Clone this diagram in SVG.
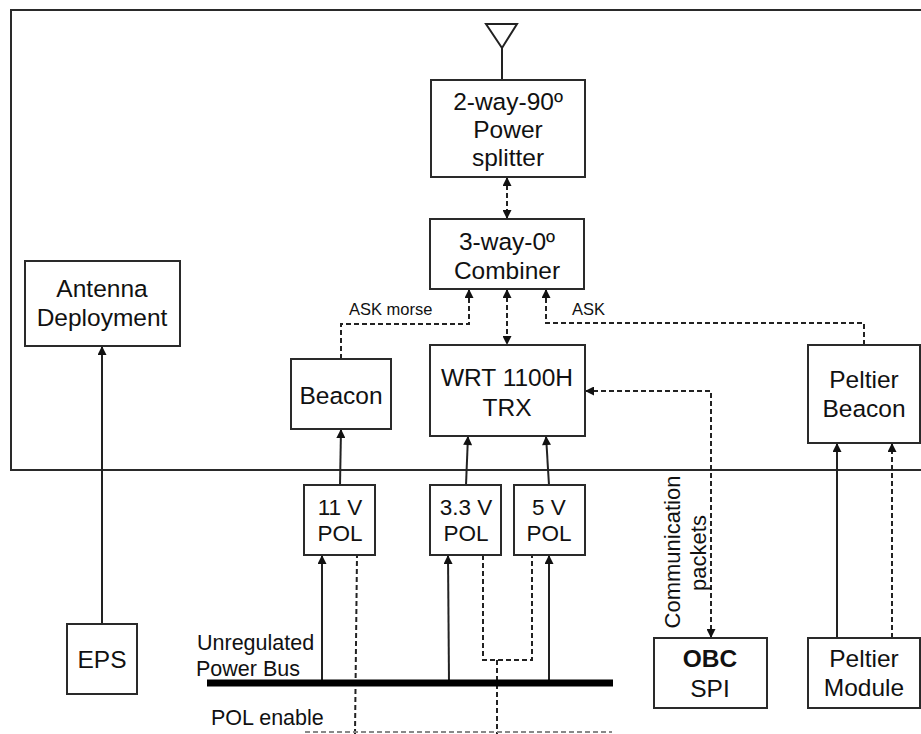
<svg xmlns="http://www.w3.org/2000/svg" width="921" height="734" viewBox="0 0 921 734">
<defs>
<style>
.box{fill:#fff;stroke:#2a2a2a;stroke-width:2}
.t{font-family:"Liberation Sans",Arial,sans-serif;font-size:24.5px;fill:#111;text-anchor:middle}
.pol{font-size:22.5px}
.lbl{font-family:"Liberation Sans",Arial,sans-serif;font-size:21.5px;fill:#111}
.small{font-family:"Liberation Sans",Arial,sans-serif;font-size:16.5px;fill:#111}
.ln{fill:none;stroke:#222;stroke-width:2}
.dash{fill:none;stroke:#222;stroke-width:2;stroke-dasharray:5 3}
</style>
<marker id="ah" viewBox="0 0 10 10" refX="10" refY="5" markerWidth="10" markerHeight="9" markerUnits="userSpaceOnUse" orient="auto-start-reverse">
<path d="M0,0 L10,5 L0,10 z" fill="#111"/>
</marker>
</defs>
<rect width="921" height="734" fill="#fff"/>
<g id="frame">
<rect x="11" y="10" width="940" height="460" fill="none" stroke="#2a2a2a" stroke-width="2"/>
</g>
<g id="connectors">
<polygon points="486,24 517,24 502,48" fill="none" stroke="#222" stroke-width="2"/>
<line class="ln" x1="502" y1="48" x2="502" y2="80"/>
<line class="dash" x1="507" y1="177" x2="507" y2="219" marker-start="url(#ah)" marker-end="url(#ah)"/>
<line class="dash" x1="507" y1="289" x2="507" y2="345" marker-start="url(#ah)" marker-end="url(#ah)"/>
<path class="dash" d="M341,359 V324 H469 V289" marker-end="url(#ah)"/>
<path class="dash" d="M864,345 V323 H546 V289" marker-end="url(#ah)"/>
<line class="ln" x1="340" y1="485" x2="341" y2="429" marker-end="url(#ah)"/>
<line class="ln" x1="466" y1="485" x2="468" y2="436" marker-end="url(#ah)"/>
<line class="ln" x1="549" y1="485" x2="546" y2="436" marker-end="url(#ah)"/>
<line class="ln" x1="322" y1="683" x2="322" y2="555" marker-end="url(#ah)"/>
<line class="ln" x1="449" y1="683" x2="448" y2="555" marker-end="url(#ah)"/>
<line class="ln" x1="549" y1="683" x2="549" y2="555" marker-end="url(#ah)"/>
<line class="dash" x1="355" y1="734" x2="357" y2="555"/>
<path class="dash" d="M483,555 V660 H532 V555"/>
<line class="dash" x1="497" y1="660" x2="497" y2="734"/>
<line x1="305" y1="732" x2="612" y2="732" stroke="#888" stroke-width="2" stroke-dasharray="5 3"/>
<path class="dash" d="M711,638 V391 H585" marker-start="url(#ah)" marker-end="url(#ah)"/>
<line class="ln" x1="102" y1="624" x2="102" y2="346" marker-end="url(#ah)"/>
<line class="ln" x1="837" y1="638" x2="837" y2="443" marker-end="url(#ah)"/>
<line class="dash" x1="892" y1="638" x2="892" y2="443" marker-end="url(#ah)"/>
<line x1="207" y1="683" x2="613" y2="683" stroke="#000" stroke-width="7"/>
<text class="small" x="349" y="315">ASK morse</text>
<text class="small" x="572" y="315">ASK</text>
<text class="lbl" x="197" y="650">Unregulated</text>
<text class="lbl" x="196" y="676">Power Bus</text>
<text class="lbl" x="211" y="725">POL enable</text>
<text class="t" style="font-size:22px" transform="translate(680,552) rotate(-90)">Communication</text>
<text class="t" style="font-size:22px" transform="translate(706,553) rotate(-90)">packets</text>
</g>
<g id="splitter">
<rect class="box" x="431" y="80" width="154" height="97"/>
<text class="t" x="508" y="110">2-way-90º</text>
<text class="t" x="508" y="138">Power</text>
<text class="t" x="508" y="166">splitter</text>
</g>
<g id="combiner">
<rect class="box" x="430" y="219" width="154" height="70"/>
<text class="t" x="507" y="250">3-way-0º</text>
<text class="t" x="507" y="279">Combiner</text>
</g>
<g id="antenna-deployment">
<rect class="box" x="25" y="261" width="155" height="85"/>
<text class="t" x="102" y="297">Antenna</text>
<text class="t" x="102" y="326">Deployment</text>
</g>
<g id="beacon">
<rect class="box" x="291" y="359" width="100" height="70"/>
<text class="t" x="341" y="404">Beacon</text>
</g>
<g id="wrt">
<rect class="box" x="430" y="345" width="155" height="91"/>
<text class="t" x="507" y="386">WRT 1100H</text>
<text class="t" x="507" y="416">TRX</text>
</g>
<g id="peltier-beacon">
<rect class="box" x="808" y="345" width="112" height="98"/>
<text class="t" x="864" y="388">Peltier</text>
<text class="t" x="864" y="417">Beacon</text>
</g>
<g id="pol11">
<rect class="box" x="304" y="485" width="71" height="70"/>
<text class="t pol" x="340" y="515">11 V</text>
<text class="t pol" x="340" y="541">POL</text>
</g>
<g id="pol33">
<rect class="box" x="430" y="485" width="71" height="70"/>
<text class="t pol" x="466" y="515">3.3 V</text>
<text class="t pol" x="466" y="541">POL</text>
</g>
<g id="pol5">
<rect class="box" x="514" y="485" width="71" height="70"/>
<text class="t pol" x="549" y="515">5 V</text>
<text class="t pol" x="549" y="541">POL</text>
</g>
<g id="eps">
<rect class="box" x="67" y="624" width="70" height="70"/>
<text class="t" x="102" y="668">EPS</text>
</g>
<g id="obc">
<rect class="box" x="654" y="638" width="113" height="70"/>
<text class="t" x="710" y="667" font-weight="bold">OBC</text>
<text class="t" x="710" y="697">SPI</text>
</g>
<g id="peltier-module">
<rect class="box" x="808" y="638" width="112" height="70"/>
<text class="t" x="864" y="667">Peltier</text>
<text class="t" x="864" y="696">Module</text>
</g>
</svg>
